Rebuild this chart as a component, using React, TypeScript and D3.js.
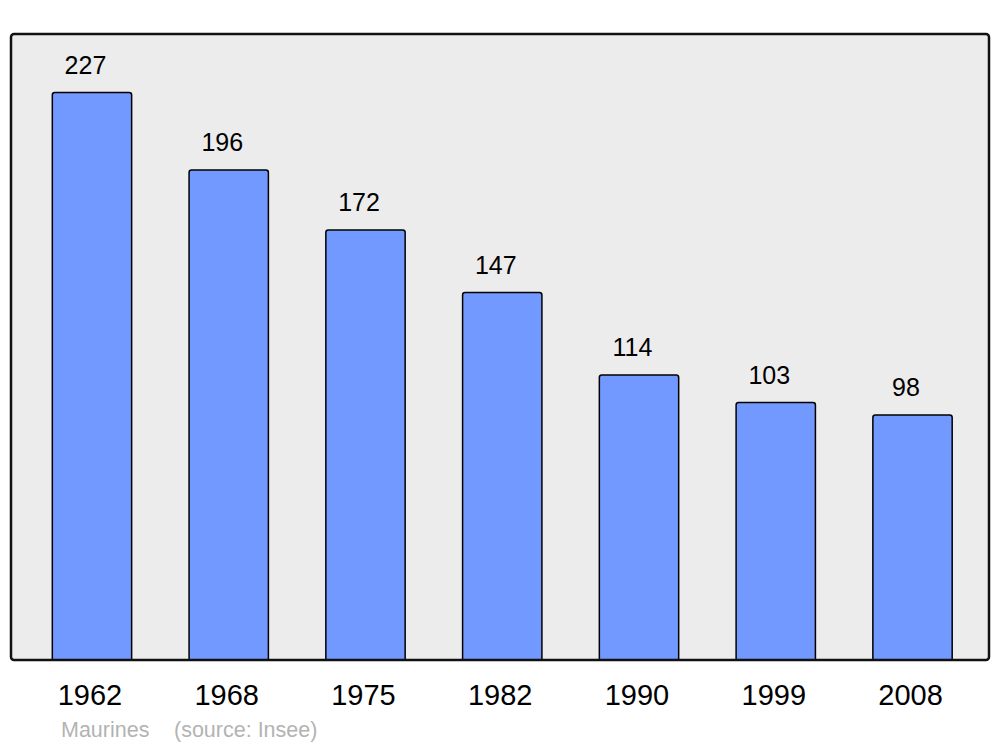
import React from 'react';
import * as d3 from 'd3';

const years = ['1962', '1968', '1975', '1982', '1990', '1999', '2008'];
const population = [227, 196, 172, 147, 114, 103, 98];
const commune = 'Maurines';
const source = '(source: Insee)';

const width = 1000;
const height = 747;
const frame = { left: 11, top: 34, right: 989, bottom: 660 };

// bar with only the top corners rounded
function barPath(x: number, y: number, w: number, h: number, r: number) {
  return `M${x},${y + h}V${y + r}Q${x},${y} ${x + r},${y}H${x + w - r}Q${x + w},${y} ${x + w},${y + r}V${y + h}Z`;
}

export default function App() {
  const x = d3
    .scaleBand<string>()
    .domain(years)
    .range([23.6, 980.9])
    .paddingInner(0.42)
    .paddingOuter(0.21);

  const y = d3.scaleLinear().domain([0, 250]).range([frame.bottom, frame.bottom - 625]);

  return (
    <svg
      width={width}
      height={height}
      style={{ position: 'absolute', left: 0, top: 0, fontFamily: '"Liberation Sans", Arial, sans-serif' }}
    >
      <rect x={0} y={0} width={width} height={height} fill="#fff" />
      <rect
        x={frame.left}
        y={frame.top}
        width={frame.right - frame.left}
        height={frame.bottom - frame.top}
        rx={3}
        fill="#ececec"
        stroke="none"
      />
      {years.map((yr, i) => {
        const bx = x(yr) as number;
        const top = y(population[i]);
        const cx = bx + x.bandwidth() / 2;
        return (
          <g key={yr}>
            <path
              d={barPath(bx, top, x.bandwidth(), frame.bottom - top, 2.5)}
              fill="#7299ff"
              stroke="#000"
              strokeWidth={1.5}
            />
            <text x={cx - 6.5} y={top - 19} textAnchor="middle" fontSize={25} fill="#000">
              {population[i]}
            </text>
            <text x={cx - 2} y={705} textAnchor="middle" fontSize={29} fill="#000">
              {yr}
            </text>
          </g>
        );
      })}
      <rect
        x={frame.left}
        y={frame.top}
        width={frame.right - frame.left}
        height={frame.bottom - frame.top}
        rx={3}
        fill="none"
        stroke="#111"
        strokeWidth={2.5}
      />
      <text x={61} y={737} fontSize={21.5} fill="#b3b3b3">
        {commune}
      </text>
      <text x={174} y={737} fontSize={21.5} fill="#b3b3b3">
        {source}
      </text>
    </svg>
  );
}
